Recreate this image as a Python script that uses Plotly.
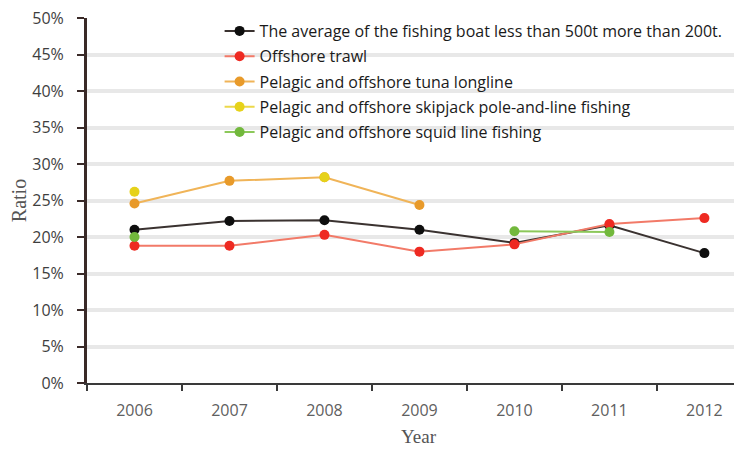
import plotly.graph_objects as go

years = ["2006", "2007", "2008", "2009", "2010", "2011", "2012"]
avg_500_200 = [0.210, 0.222, 0.223, 0.210, 0.192, 0.216, 0.178]
offshore_trawl = [0.188, 0.188, 0.203, 0.180, 0.190, 0.218, 0.226]
tuna_longline = [0.246, 0.277, 0.282, 0.244, None, None, None]
skipjack_pole = [0.262, None, 0.282, None, None, None, None]
squid_line = [0.200, None, None, None, 0.208, 0.207, None]

names = [
    "The average of the fishing boat less than 500t more than 200t.",
    "Offshore trawl",
    "Pelagic and offshore tuna longline",
    "Pelagic and offshore skipjack pole-and-line fishing",
    "Pelagic and offshore squid line fishing",
]
series = [avg_500_200, offshore_trawl, tuna_longline, skipjack_pole, squid_line]
line_colors = ["#3a3230", "#f27a68", "#f0b458", "#ecd84a", "#8cc85a"]
marker_colors = ["#0e0e0e", "#ee2a22", "#e89a2a", "#e6d21a", "#72b83c"]

fig = go.Figure()
for i, (n, s) in enumerate(zip(names, series)):
    fig.add_trace(go.Scatter(
        x=years, y=s, name=n, mode="lines+markers",
        connectgaps=False, legendgroup=str(i),
        line=dict(color=line_colors[i], width=2),
        marker=dict(color=marker_colors[i], size=10),
    ))

fig.update_layout(
    width=742, height=450,
    margin=dict(l=79, r=0, t=10, b=75),
    paper_bgcolor="white", plot_bgcolor="white",
    font=dict(family="Open Sans", size=13, color="#333"),
    showlegend=True,
    legend=dict(
        x=0.2, y=1.011, xanchor="left", yanchor="top",
        bgcolor="rgba(255,255,255,0)",
        font=dict(family="Open Sans", size=16, color="#1a1a1a"),
        tracegroupgap=1.5, traceorder="grouped",
        itemwidth=30,
    ),
    xaxis=dict(
        type="category", range=[-0.5, 6.48], automargin=False,
        showgrid=False, showline=True, linecolor="#3a3a3a", linewidth=2,
        ticks="outside", tickson="boundaries", ticklen=6, tickwidth=2, tickcolor="#3a3a3a",
        ticklabelstandoff=12,
        tickfont=dict(family="Open Sans", size=16, color="#606060"),
        title=dict(text="Year", font=dict(family="Liberation Serif", size=19, color="#555"), standoff=9),
    ),
    yaxis=dict(
        range=[0, 0.5002], tick0=0, dtick=0.05, tickformat=".0%", automargin=False,
        ticklabeloverflow="allow",
        showgrid=True, gridcolor="#e8e8e8", gridwidth=3.5,
        showline=True, linecolor="#3a2a28", linewidth=3,
        ticks="outside", ticklen=7, tickwidth=2, tickcolor="#3a2a28",
        ticklabelstandoff=10,
        tickfont=dict(family="Open Sans", size=16, color="#3e3e3e"),
        title=dict(text="Ratio", font=dict(family="Liberation Serif", size=20, color="#555"), standoff=8),
        zeroline=False,
    ),
)

fig.write_html("out.html")
